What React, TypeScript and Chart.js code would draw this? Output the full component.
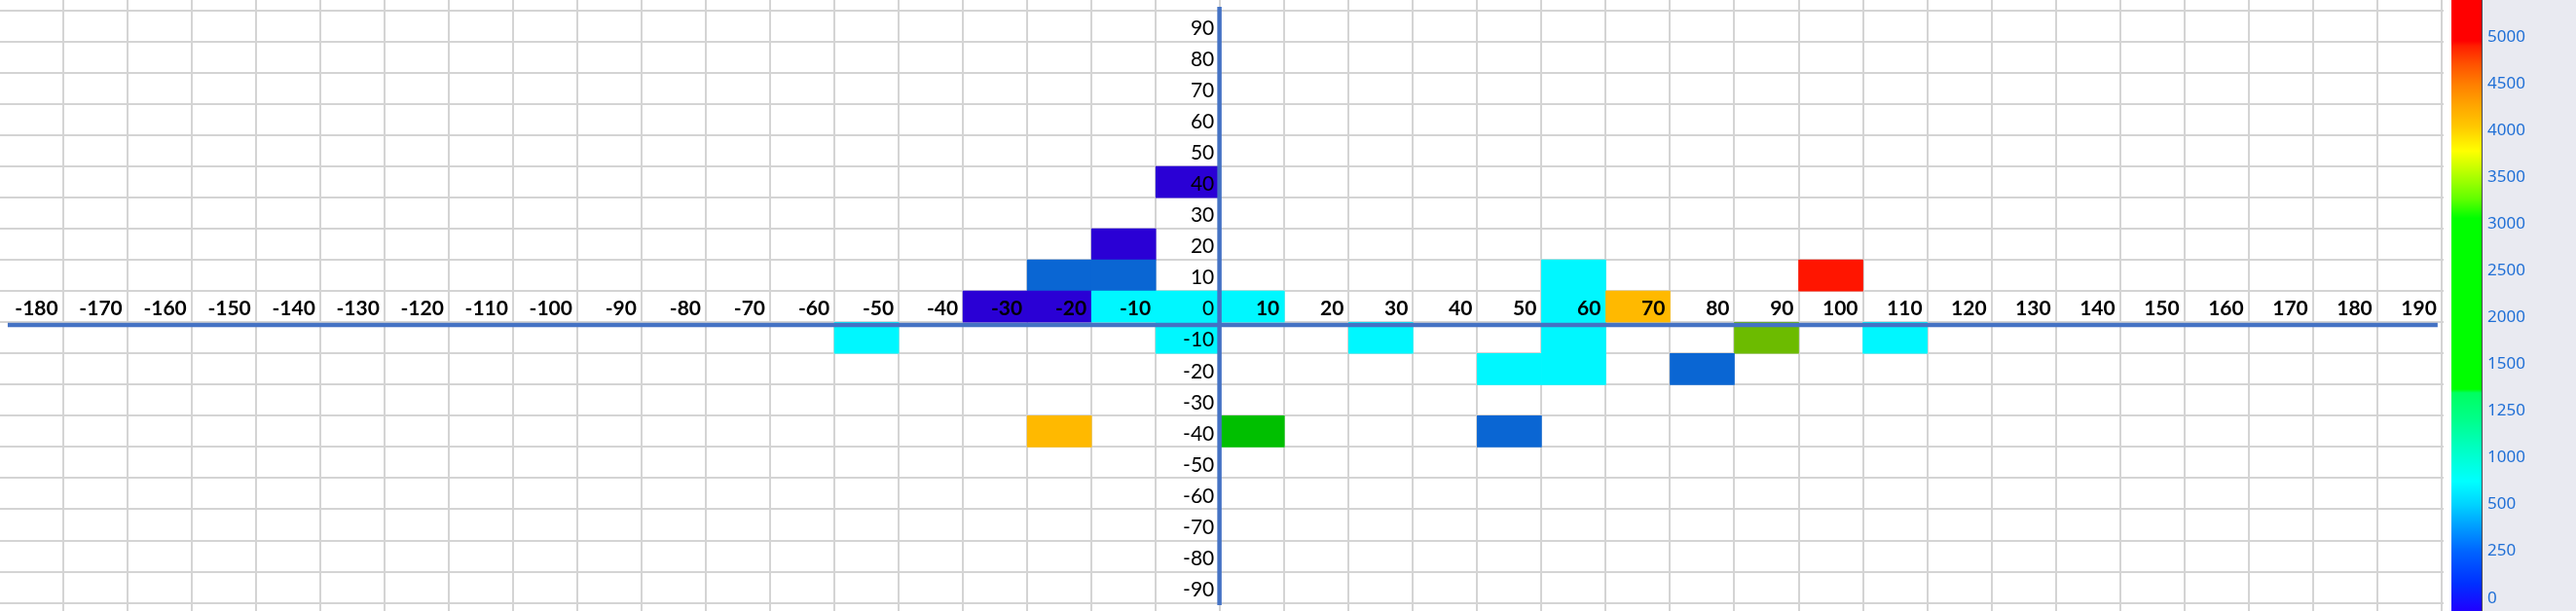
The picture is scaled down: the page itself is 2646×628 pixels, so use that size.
import React, { useEffect, useRef } from 'react';
import { Chart, registerables } from 'chart.js';

Chart.register(...registerables);

// ---- data ----
const X_LABELS = [-180, -170, -160, -150, -140, -130, -120, -110, -100, -90, -80, -70, -60, -50, -40, -30, -20, -10, 0, 10, 20, 30, 40, 50, 60, 70, 80, 90, 100, 110, 120, 130, 140, 150, 160, 170, 180, 190];
const Y_LABELS = [90, 80, 70, 60, 50, 40, 30, 20, 10, 0, -10, -20, -30, -40, -50, -60, -70, -80, -90];

const CELL_X = [0, -10, -20, -10, -30, -20, -10, 0, 10, 60, 60, 70, 100, -50, 0, 30, 60, 90, 110, 50, 60, 80, -20, 10, 50];
const CELL_Y = [40, 20, 10, 10, 0, 0, 0, 0, 0, 10, 0, 0, 10, -10, -10, -10, -10, -10, -10, -20, -20, -20, -40, -40, -40];
const CELL_VALUE = [60, 80, 270, 260, 50, 70, 760, 820, 780, 740, 800, 4200, 5200, 720, 760, 700, 780, 3300, 730, 750, 790, 280, 4150, 2200, 260];

const COLORBAR_LABELS = ['0', '250', '500', '1000', '1250', '1500', '2000', '2500', '3000', '3500', '4000', '4500', '5000'];
const VALUE_BREAKS = [200, 500, 1400, 3100, 3800, 4800];
const VALUE_COLORS = ['#2A00D5', '#0A66D3', '#00F7FF', '#00BF00', '#6CBB00', '#FFB900', '#FF1500'];

const CELL = 10;
const X_MIN = -184.8;
const X_MAX = 195.33;
const Y_MIN = -97.62;
const Y_MAX = 98.37;
const AXIS_X = 4.9;
const AXIS_Y = -5.87;

const CB_STOPS: [number, string][] = [
  [0, '#2000FF'], [0.045, '#0030FF'], [0.097, '#0064FF'], [0.14, '#00A0FF'], [0.175, '#00D4FF'],
  [0.212, '#00FFFF'], [0.268, '#00FFC0'], [0.315, '#00FF88'], [0.357, '#00FF60'], [0.363, '#00FF00'],
  [0.643, '#00FF00'], [0.674, '#60FF00'], [0.705, '#A0FF00'], [0.753, '#FFFF00'], [0.793, '#FFC800'],
  [0.825, '#FFA800'], [0.861, '#FF8000'], [0.896, '#FF5000'], [0.925, '#FF1E00'], [0.933, '#FF0000'], [1, '#FF0000'],
];

function colorFor(v: number): string {
  let i = 0;
  while (i < VALUE_BREAKS.length && v >= VALUE_BREAKS[i]) i++;
  return VALUE_COLORS[i];
}

function bounds(min: number, max: number, first: number) {
  const out: { value: number }[] = [];
  for (let v = first; v <= max; v += CELL) if (v >= min) out.push({ value: v });
  return out;
}

const overlay = {
  id: 'overlay',
  afterDatasetsDraw(chart: any) {
    const { ctx } = chart;
    const xs = chart.scales.x;
    const ys = chart.scales.y;
    ctx.save();
    // axis lines
    ctx.strokeStyle = '#4472C4';
    ctx.lineWidth = 4.5;
    ctx.beginPath();
    const yl = ys.getPixelForValue(AXIS_Y);
    ctx.moveTo(xs.getPixelForValue(-183.6), yl);
    ctx.lineTo(xs.getPixelForValue(194.4), yl);
    ctx.stroke();
    ctx.beginPath();
    const xl = xs.getPixelForValue(AXIS_X);
    ctx.moveTo(xl, ys.getPixelForValue(96.2));
    ctx.lineTo(xl, ys.getPixelForValue(-95.76));
    ctx.stroke();

    // x labels (bold, inside the 0 row)
    ctx.fillStyle = '#000';
    ctx.textAlign = 'right';
    ctx.textBaseline = 'alphabetic';
    ctx.font = 'bold 21px Lato';
    const rowBottom0 = ys.getPixelForValue(-CELL / 2);
    X_LABELS.forEach((v) => {
      if (v === 0) return;
      ctx.fillText(String(v), xs.getPixelForValue(v + CELL / 2) - 5, rowBottom0 - 7);
    });
    // y labels (regular, inside the 0 column)
    ctx.font = '21px Lato';
    const colRight = xs.getPixelForValue(CELL / 2) - 6;
    Y_LABELS.forEach((v) => {
      ctx.fillText(String(v), colRight, ys.getPixelForValue(v - CELL / 2) - 6.8);
    });
    ctx.restore();
  },
  afterDraw(chart: any) {
    const { ctx } = chart;
    const H = chart.height;
    ctx.save();
    ctx.fillStyle = '#E9EAF1';
    ctx.fillRect(2549, 0, 97, H);
    const g = ctx.createLinearGradient(0, H, 0, 0);
    CB_STOPS.forEach(([t, c]) => g.addColorStop(t, c));
    ctx.fillStyle = g;
    ctx.fillRect(2518, 0, 31, H);
    ctx.fillStyle = '#4a4a55';
    ctx.fillRect(2549, 0, 1, H);
    ctx.fillStyle = '#1F6FD6';
    ctx.font = '17px "Noto Sans"';
    ctx.textAlign = 'left';
    ctx.textBaseline = 'middle';
    COLORBAR_LABELS.forEach((lab, i) => {
      ctx.fillText(lab, 2555, H - 13.3 - 48.05 * i);
    });
    ctx.restore();
  },
};

export default function App() {
  const ref = useRef<HTMLCanvasElement>(null);
  useEffect(() => {
    if (!ref.current) return;
    const data = CELL_X.map((x, i) => ({ x, y: [CELL_Y[i] - CELL / 2, CELL_Y[i] + CELL / 2], v: CELL_VALUE[i] }));
    const chart = new Chart(ref.current, {
      type: 'bar',
      data: {
        datasets: [
          {
            data: data as any,
            backgroundColor: (c: any) => colorFor(c.raw ? c.raw.v : 0),
            borderWidth: 0,
            barPercentage: 1,
            categoryPercentage: 1,
          },
        ],
      },
      plugins: [overlay],
      options: {
        animation: false,
        responsive: false,
        devicePixelRatio: 1,
        layout: { padding: { left: 0, top: 0, bottom: 0, right: 136 } },
        plugins: { legend: { display: false }, tooltip: { enabled: false } },
        scales: {
          x: {
            type: 'linear',
            min: X_MIN,
            max: X_MAX,
            offset: false,
            afterBuildTicks: (s: any) => { s.ticks = bounds(X_MIN, X_MAX, -185); },
            grid: { color: '#D4D4D4', lineWidth: 2, drawTicks: false, offset: false },
            ticks: { display: false },
            border: { display: false },
          },
          y: {
            type: 'linear',
            min: Y_MIN,
            max: Y_MAX,
            afterBuildTicks: (s: any) => { s.ticks = bounds(Y_MIN, Y_MAX, -95); },
            grid: { color: '#D4D4D4', lineWidth: 2, drawTicks: false },
            ticks: { display: false },
            border: { display: false },
          },
        },
      } as any,
    });
    return () => chart.destroy();
  }, []);
  return (
    <div style={{ position: 'absolute', left: 0, top: 0, width: 2646, height: 628, background: '#fff' }}>
      <canvas ref={ref} width={2646} height={628} />
    </div>
  );
}
